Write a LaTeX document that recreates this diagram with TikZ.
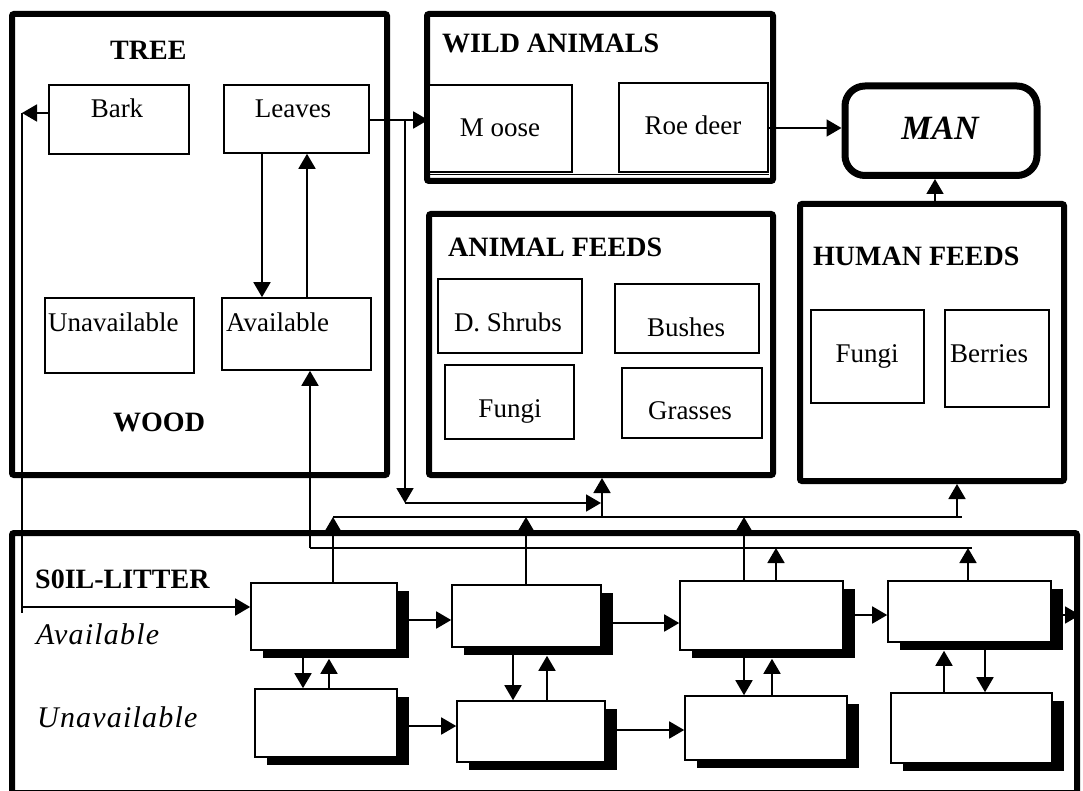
\documentclass[tikz,border=0pt]{standalone}
\usepackage{fontspec}
\setmainfont{Liberation Serif}
\usetikzlibrary{arrows.meta,shadows}

\newcommand{\boxfont}{\fontsize{27}{30}\selectfont}
\newcommand{\headfont}{\fontsize{28}{32}\selectfont\bfseries}
\newcommand{\soilfont}{\fontsize{30}{34}\selectfont\itshape\addfontfeature{LetterSpace=4}}
\newcommand{\manfont}{\fontsize{34}{38}\selectfont\bfseries\itshape}

\begin{document}
\begin{tikzpicture}[x=1pt,y=-1pt,
  sz/.style 2 args={minimum width=#1pt, minimum height=#2pt},
  panel/.style={draw, line width=6pt, rounded corners=2pt, inner sep=0pt},
  item/.style={draw, line width=1.6pt, fill=white, inner sep=0pt},
  pool/.style={item, general shadow={fill=black, shadow xshift=12pt, shadow yshift=-8pt}},
  lbl/.style={inner sep=0pt, anchor=base, font=\boxfont},
  lblw/.style={inner sep=0pt, anchor=base west, font=\boxfont},
  head/.style={inner sep=0pt, anchor=base west, font=\headfont},
  soiltag/.style={inner sep=0pt, anchor=base west, font=\soilfont},
  link/.style={line width=1.8pt},
  arr/.style={link, -{Triangle[length=15pt,width=17pt]}},
]
\clip (0,0) rectangle (1083,791);
\fill[white] (0,0) rectangle (1083,791);

% ---------- compartments ----------
\node[panel, sz={375}{461}] (tree)   at (199.5,244.5) {};
\node[panel, sz={346}{167}] (wild)   at (600,97.5) {};
\node[panel, sz={344}{261}] (afeeds) at (601,344.5) {};
\node[panel, sz={264}{277}] (hfeeds) at (932,342.5) {};
\node[panel, line width=7pt, rounded corners=20pt, sz={192}{89.5}] (man) at (941,130.75) {};
\node[panel, sz={1065}{260}] (soil)  at (544.5,663) {};

% ---------- tree ----------
\node[item, sz={140}{69}]  (bark)   at (119,119.5) {};
\node[item, sz={145}{68}]  (leaves) at (296.5,119) {};
\node[item, sz={149}{75}]  (wunav)  at (119.5,335.5) {};
\node[item, sz={149}{72}]  (wavail) at (296.5,334) {};
\node[head] (hTree) at (110,60) {TREE};
\node[head] (hWood) at (113,431) {WOOD};
\node[lbl]  (tBark)   at (117,118) {Bark};
\node[lbl]  (tLeaves) at (293,118) {Leaves};
\node[lblw] (tWunav)  at (48,331) {Unavailable};
\node[lblw] (tWavail) at (226,331) {Available};

% ---------- wild animals ----------
\node[item, sz={143}{87}] (moose) at (500.5,128.5) {};
\node[item, sz={149}{89}] (roe)   at (693.5,127.5) {};
\draw[line width=1.2pt] ([yshift=-2pt]moose.south west) -- ([yshift=-2pt]roe.south east);
\node[head] (hWild) at (442,53) {WILD ANIMALS};
\node[lbl]  (tMoose) at (500,137) {M oose};
\node[lbl]  (tRoe)   at (693,135) {Roe deer};

% ---------- man ----------
\node[inner sep=0pt, anchor=base, font=\manfont] (tMan) at (940,140) {MAN};

% ---------- animal feeds ----------
\node[item, sz={144}{74}] (dshrubs) at (510,316) {};
\node[item, sz={144}{69}] (bushes)  at (687,318.5) {};
\node[item, sz={129}{74}] (afungi)  at (509.5,402) {};
\node[item, sz={140}{70}] (grasses) at (692,403) {};
\node[head] (hAnimal) at (448,257) {ANIMAL FEEDS};
\node[lbl] (tShrubs)  at (508,331) {D. Shrubs};
\node[lbl] (tBushes)  at (686,336) {Bushes};
\node[lbl] (tAfungi)  at (510,417) {Fungi};
\node[lbl] (tGrasses) at (690,419) {Grasses};

% ---------- human feeds ----------
\node[item, sz={113}{93}] (hfungi)  at (867.5,356.5) {};
\node[item, sz={104}{97}] (berries) at (997,358.5) {};
\node[head] (hHuman) at (813,266) {HUMAN FEEDS};
\node[lbl] (tHfungi)  at (867,362) {Fungi};
\node[lbl] (tBerries) at (989,362) {Berries};

% ---------- soil-litter pools ----------
\node[pool, sz={146}{67}] (s1) at (324,616.5) {};
\node[pool, sz={149}{62}] (s2) at (526.5,616) {};
\node[pool, sz={163}{69}] (s3) at (761.5,615.5) {};
\node[pool, sz={163}{61}] (s4) at (969.5,611.5) {};
\node[pool, sz={142}{68}] (u1) at (326,723) {};
\node[pool, sz={148}{61}] (u2) at (531,731.5) {};
\node[pool, sz={162}{64}] (u3) at (766,728) {};
\node[pool, sz={161}{70}] (u4) at (971.5,728) {};
\node[head] (hSoil) at (35,588) {S0IL-LITTER};
\node[soiltag] (tSavail) at (36,644) {Available};
\node[soiltag] (tSunav)  at (37,727) {Unavailable};

% ---------- junction points ----------
\coordinate (barkturn) at (22,113);
\coordinate (barkfoot) at (22,613);
\coordinate (lvbranch) at (405,120);
\coordinate (lvdrop)   at (405,503);
\coordinate (busAw) at (333,517);
\coordinate (busAe) at (962,517);
\coordinate (busBw) at (310,548);
\coordinate (busBe) at (972,548);

% ---------- tree flows ----------
\draw[arr] (bark.west |- barkturn) -- (barkturn);
\draw[link] (barkturn) -- (barkfoot);
\draw[arr] (22,607) -- (s1.west |- 0,607);
\draw[arr] (leaves.south -| 262,0) -- (wavail.north -| 262,0);
\draw[arr] (wavail.north -| 307,0) -- (leaves.south -| 307,0);
\draw[arr] (leaves.east |- lvbranch) -- (moose.west |- lvbranch);
\draw[arr] (lvbranch) -- (lvdrop);
\draw[arr] (lvdrop) -- (601,503);

% ---------- to man ----------
\draw[arr] (roe.east |- 0,128) -- (man.west |- 0,128);
\draw[arr] (hfeeds.north -| 935,0) -- (man.south -| 935,0);

% ---------- upper bus: soil to feeds ----------
\draw[link] (busAw) -- (busAe);
\draw[arr] (s1.north -| busAw) -- (busAw);
\draw[arr] (s2.north -| 526,0) -- (526,517);
\draw[arr] (s3.north -| 744,0) -- (744,517);
\draw[arr] (602,517) -- (afeeds.south -| 602,0);
\draw[arr] (957,517) -- (hfeeds.south -| 957,0);

% ---------- lower bus: soil back to wood ----------
\draw[link] (busBw) -- (busBe);
\draw[arr] (s3.north -| 776,0) -- (776,548);
\draw[arr] (s4.north -| 968,0) -- (968,548);
\draw[arr] (busBw) -- (wavail.south -| busBw);

% ---------- soil pools: along rows ----------
\draw[arr] (s1.east |- 0,620) -- (s2.west |- 0,620);
\draw[arr] (s2.east |- 0,623) -- (s3.west |- 0,623);
\draw[arr] (s3.east |- 0,615) -- (s4.west |- 0,615);
\draw[arr] (s4.east |- 0,615) -- (soil.east |- 0,615);
\draw[arr] (u1.east |- 0,726) -- (u2.west |- 0,726);
\draw[arr] (u2.east |- 0,730) -- (u3.west |- 0,730);

% ---------- soil pools: between rows ----------
\draw[arr] (s1.south -| 303,0) -- (u1.north -| 303,0);
\draw[arr, shorten >=8pt] (u1.north -| 329,0) -- (s1.south -| 329,0);
\draw[arr] (s2.south -| 513,0) -- (u2.north -| 513,0);
\draw[arr, shorten >=8pt] (u2.north -| 547,0) -- (s2.south -| 547,0);
\draw[arr] (s3.south -| 744,0) -- (u3.north -| 744,0);
\draw[arr, shorten >=8pt] (u3.north -| 772,0) -- (s3.south -| 772,0);
\draw[arr, shorten >=8pt] (u4.north -| 944,0) -- (s4.south -| 944,0);
\draw[arr] (s4.south -| 985,0) -- (u4.north -| 985,0);
\end{tikzpicture}
\end{document}
